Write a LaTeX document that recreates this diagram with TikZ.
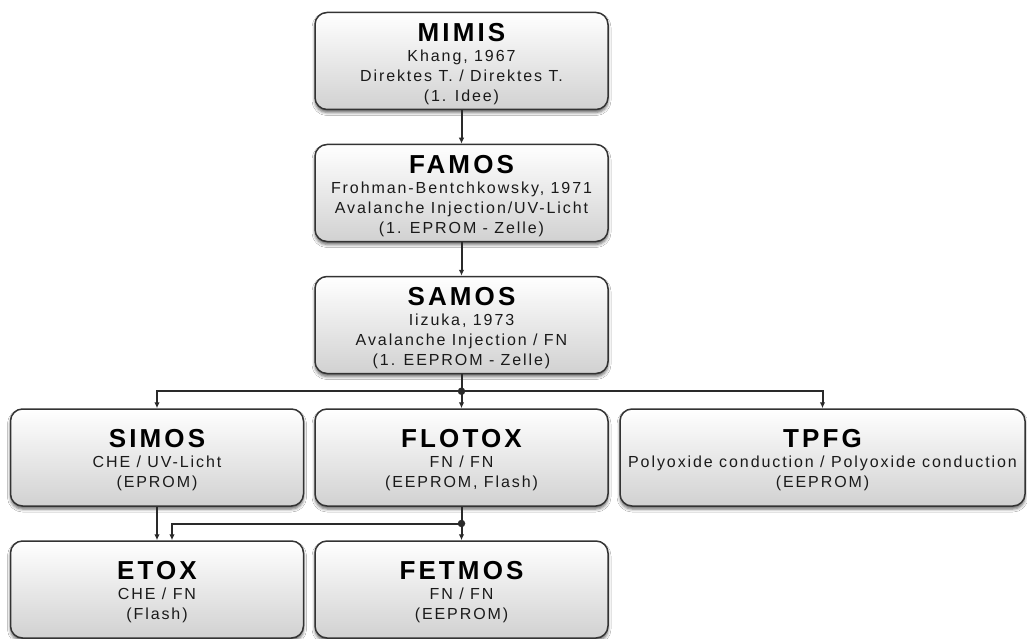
\documentclass[tikz,border=0pt]{standalone}
\usepackage{fontspec}
\usetikzlibrary{arrows.meta,shadows.blur,calc}
\newfontfamily\boxfont[LetterSpace=12]{Liberation Sans}
\newfontfamily\boxtitlefont[LetterSpace=12]{Liberation Sans Bold}
\definecolor{edgegray}{HTML}{333333}
\definecolor{linegray}{HTML}{2A2A2A}
\definecolor{txtgray}{HTML}{1A1A1A}
\newcommand{\ttl}[1]{\rule{0pt}{24pt}{\boxtitlefont\fontsize{26}{20}\selectfont\color{black}#1}\\}
\tikzset{
  boxnode/.style={rounded corners=12pt, draw=edgegray, line width=1.5pt,
    top color=white, bottom color=black!18,
    minimum width=293pt, minimum height=97pt, inner sep=0pt,
    align=center, text=txtgray,
    font=\boxfont\fontsize{16}{20}\selectfont,
    blur shadow={shadow xshift=0pt, shadow yshift=-3pt, shadow blur radius=3pt, shadow opacity=60}},
  wide/.style={minimum width=405pt},
  conn/.style={draw=linegray, line width=2pt},
  arr/.style={conn, -{Latex[length=6pt,width=5.5pt]}},
  jdot/.style={circle, fill=linegray, inner sep=0pt, minimum size=7.5pt}
}
\begin{document}
\begin{tikzpicture}[x=1pt,y=-1pt]
\clip (0,0) rectangle (1027,639);
\fill[white] (0,0) rectangle (1027,639);
\node[boxnode] (mimis) at (461.5,61) {\ttl{MIMIS}Khang, 1967\\Direktes T. / Direktes T.\\(1. Idee)};
\node[boxnode] (famos) at (461.5,193) {\ttl{FAMOS}Frohman-Bentchkowsky, 1971\\Avalanche Injection/UV-Licht\\(1. EPROM - Zelle)};
\node[boxnode] (samos) at (461.5,325) {\ttl{SAMOS}Iizuka, 1973\\Avalanche Injection / FN\\(1. EEPROM - Zelle)};
\node[boxnode] (simos) at (157,457.5) {\ttl{SIMOS}CHE / UV-Licht\\(EPROM)};
\node[boxnode] (flotox) at (461.5,457.5) {\ttl{FLOTOX}FN / FN\\(EEPROM, Flash)};
\node[boxnode,wide] (tpfg) at (822.5,457.5) {\ttl{TPFG}Polyoxide conduction / Polyoxide conduction\\(EEPROM)};
\node[boxnode] (etox) at (157,589.5) {\ttl{ETOX}CHE / FN\\(Flash)};
\node[boxnode] (fetmos) at (461.5,589.5) {\ttl{FETMOS}FN / FN\\(EEPROM)};
% connectors
\draw[arr] (mimis.south) -- (famos.north);
\draw[arr] (famos.south) -- (samos.north);
\coordinate (j1) at ($(samos.south)!0.5!(flotox.north)$);
\draw[arr] (samos.south) -- (flotox.north);
\draw[arr] (j1) -| (simos.north);
\draw[arr] (j1) -| (tpfg.north);
\node[jdot] (d1) at (j1) {};
\coordinate (j2) at ($(flotox.south)!0.5!(fetmos.north)$);
\coordinate (etoxin) at ($(etox.north)+(15,0)$);
\draw[arr] (flotox.south) -- (fetmos.north);
\draw[arr] (j2) -| (etoxin);
\draw[arr] (simos.south) -- (etox.north);
\node[jdot] (d2) at (j2) {};
\end{tikzpicture}
\end{document}
